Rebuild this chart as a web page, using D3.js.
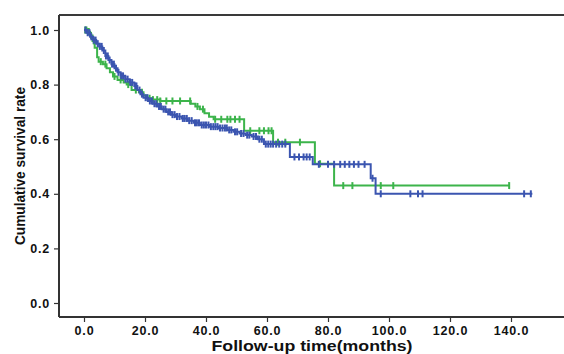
<!DOCTYPE html>
<html><head><meta charset="utf-8">
<script src="https://cdn.jsdelivr.net/npm/d3@7"></script>
<style>body{margin:0;background:#fff}svg{display:block}</style>
</head><body>
<script>
// Kaplan-Meier step data: [time (months), survival after drop]
const blueSteps = [[0,1.0],[1,0.99],[2,0.975],[3,0.963],[4,0.95],[5,0.94],[6,0.925],[7,0.905],[8,0.89],[9,0.875],[10,0.86],[11,0.845],[12,0.832],[13.5,0.82],[15,0.808],[16.5,0.795],[17.5,0.78],[18.5,0.765],[19.5,0.752],[21,0.74],[22.5,0.73],[24,0.72],[25.5,0.71],[27,0.70],[28.5,0.69],[30,0.683],[32,0.676],[34,0.668],[36,0.66],[38,0.652],[41,0.646],[44,0.641],[47,0.634],[49,0.627],[51,0.621],[53,0.615],[55,0.61],[57,0.60],[59,0.582],[67.5,0.535],[75,0.508],[94,0.457],[95.6,0.40]];
const blueEnd = 147;
const blueCensor = [0.5,1.2,1.8,2.4,3.2,3.8,4.5,5.2,5.8,6.5,7.2,7.8,8.4,9.2,9.8,10.5,11.3,12.2,12.8,13.6,14.3,15.2,15.8,16.8,17.2,18.2,19,20.2,20.8,21.6,22.3,23.1,23.7,24.6,25.2,26.1,26.7,27.6,28.2,29,29.7,30.5,31.3,32.4,33,33.7,34.5,35.3,36.4,37,37.7,38.6,39.3,40,40.8,41.6,42.4,43.1,43.8,44.6,45.4,46.2,46.8,47.6,48.3,49.5,50.2,51.5,52.3,53.5,54.2,55.6,56.4,57.5,58.3,59.6,60.4,61.2,62,63,64,65,66,69,70.5,72,73,74,77,80,82,84,85.5,87,88.5,90,92,94.6,97.3,107,109.5,111,144.3,146.5];

const greenSteps = [[0,1.0],[1,0.994],[2,0.98],[2.8,0.96],[3.5,0.935],[4.3,0.9],[4.8,0.884],[6.2,0.875],[7.4,0.86],[8.5,0.845],[9.5,0.83],[11,0.817],[13,0.808],[14,0.8],[15.6,0.78],[18,0.772],[19.5,0.76],[20.6,0.75],[22.5,0.745],[25,0.74],[35,0.73],[36.5,0.72],[38,0.71],[39.5,0.695],[41,0.682],[42.5,0.673],[52.5,0.631],[62,0.589],[75.7,0.51],[82,0.43]];
const greenEnd = 139.4;
const greenCensor = [0.4,0.8,1.3,1.6,2.3,3.2,5.5,7,10,12,14.5,17,19,21.5,22.6,24,25,27,29,31.5,34.8,37.2,39,43,45,47,48,49.5,51,54.5,57.5,59,60.5,61.5,63.6,66,70.8,77.4,85,88,97.3,101.4,139.4];

const xTicks = [0,20,40,60,80,100,120,140];
const yTicks = [0,0.2,0.4,0.6,0.8,1.0];

const W = 564, H = 354;
const svg = d3.select("body").append("svg").attr("width",W).attr("height",H);

const x = d3.scaleLinear().domain([0,140]).range([84,511]);
const y = d3.scaleLinear().domain([0,1]).range([303,30]);

const frameL = 59, frameT = 15, frameB = 317, frameR = 566;

// frame top
svg.append("line").attr("x1",frameL).attr("x2",frameR).attr("y1",frameT).attr("y2",frameT)
  .attr("stroke","#3a3a3a").attr("stroke-width",2);

const tickFont = "'Liberation Sans', Arial, sans-serif";

const yAxis = svg.append("g").attr("transform",`translate(${frameL},0)`)
  .call(d3.axisLeft(y).tickValues(yTicks).tickFormat(d3.format(".1f")).tickSize(5).tickPadding(4));
yAxis.select(".domain").attr("d",`M0,${frameT}V${frameB}`).attr("stroke","#333").attr("stroke-width",2);
yAxis.selectAll(".tick line").attr("stroke","#333").attr("stroke-width",1.2);
yAxis.selectAll("text").attr("font-family",tickFont).attr("font-size",12.5).attr("font-weight","bold")
  .attr("letter-spacing","0.8px").attr("fill","#111");

const xAxis = svg.append("g").attr("transform",`translate(0,${frameB})`)
  .call(d3.axisBottom(x).tickValues(xTicks).tickFormat(d3.format(".1f")).tickSize(5).tickPadding(4));
xAxis.select(".domain").attr("d",`M${frameL},0H${frameR}`).attr("stroke","#333").attr("stroke-width",2);
xAxis.selectAll(".tick line").attr("stroke","#333").attr("stroke-width",1.2);
xAxis.selectAll("text").attr("font-family",tickFont).attr("font-size",12.5).attr("font-weight","bold")
  .attr("letter-spacing","0.8px").attr("fill","#111");

// titles
svg.append("text").attr("transform","translate(25,166) rotate(-90)")
  .attr("text-anchor","middle").attr("font-family",tickFont).attr("font-weight","bold")
  .attr("font-size",15).attr("fill","#111").attr("textLength",158).attr("lengthAdjust","spacingAndGlyphs")
  .text("Cumulative survival rate");
svg.append("text").attr("x",312).attr("y",351)
  .attr("text-anchor","middle").attr("font-family",tickFont).attr("font-weight","bold")
  .attr("font-size",15).attr("fill","#111").attr("textLength",201).attr("lengthAdjust","spacingAndGlyphs")
  .text("Follow-up time(months)");

function stepPoints(steps, end){
  const pts = [];
  for (let i=0;i<steps.length;i++){
    const [t,s] = steps[i];
    if (i>0) pts.push([t, steps[i-1][1]]);
    pts.push([t,s]);
  }
  pts.push([end, steps[steps.length-1][1]]);
  return pts;
}
function survAt(steps, t){
  let s = steps[0][1];
  for (const [tt,ss] of steps){ if (tt<=t) s = ss; else break; }
  return s;
}
const line = d3.line().x(d=>x(d[0])).y(d=>y(d[1]));

function drawCurve(steps, end, censor, color){
  const g = svg.append("g");
  g.append("path").attr("d", line(stepPoints(steps,end))).attr("fill","none")
    .attr("stroke",color).attr("stroke-width",2).attr("stroke-linejoin","miter");
  g.selectAll("line.c").data(censor).join("line").attr("class","c")
    .attr("x1",d=>x(d)).attr("x2",d=>x(d))
    .attr("y1",d=>y(survAt(steps,d))-3.5).attr("y2",d=>y(survAt(steps,d))+3.5)
    .attr("stroke",color).attr("stroke-width",2);
}
drawCurve(greenSteps, greenEnd, greenCensor, "#3cb44b");
drawCurve(blueSteps, blueEnd, blueCensor, "#3b55b0");
</script>
</body></html>
